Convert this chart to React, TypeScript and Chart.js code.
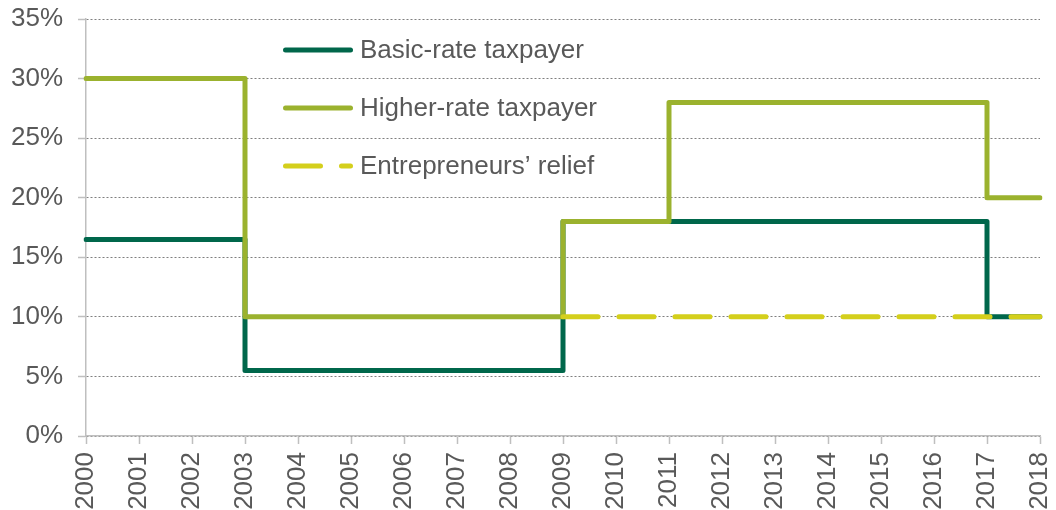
import React, { useEffect, useRef } from 'react';
import { Chart, registerables } from 'chart.js';

Chart.register(...registerables);

const years = ['2000', '2001', '2002', '2003', '2004', '2005', '2006', '2007', '2008', '2009', '2010', '2011', '2012', '2013', '2014', '2015', '2016', '2017', '2018'];
const basicRate = [16.5, 16.5, 16.5, 5.5, 5.5, 5.5, 5.5, 5.5, 5.5, 18, 18, 18, 18, 18, 18, 18, 18, 10, 10];
const higherRate = [30, 30, 30, 10, 10, 10, 10, 10, 10, 18, 18, 28, 28, 28, 28, 28, 28, 20, 20];
const entrepreneursRelief = [null, null, null, null, null, null, null, null, null, 10, 10, 10, 10, 10, 10, 10, 10, 10, 10];
const seriesNames = ['Basic-rate taxpayer', 'Higher-rate taxpayer', 'Entrepreneurs\u2019 relief'];
const seriesColors = ['#00674B', '#9BB22E', '#D4CF1C'];

const FONT = "'Liberation Sans', Arial, sans-serif";
const TEXT = '#595959';
const AXIS = '#BFBFBF';
const ER_DASH = [35, 21];
const LINE_W = 5;

const legendPlugin = {
  id: 'insideLegend',
  afterDraw(chart: any) {
    const ctx = chart.ctx;
    const rows = [50, 108, 166];
    ctx.save();
    seriesNames.forEach((name, i) => {
      const y = rows[i];
      ctx.beginPath();
      ctx.lineWidth = LINE_W;
      ctx.lineCap = 'round';
      ctx.strokeStyle = seriesColors[i];
      ctx.setLineDash(i === 2 ? ER_DASH : []);
      ctx.moveTo(285.5, y);
      ctx.lineTo(350.5, y);
      ctx.stroke();
      ctx.setLineDash([]);
      ctx.fillStyle = TEXT;
      ctx.font = `26px ${FONT}`;
      ctx.textAlign = 'left';
      ctx.textBaseline = 'middle';
      ctx.fillText(name, 360, y + 1);
    });
    ctx.restore();
  },
};

export default function App() {
  const ref = useRef<HTMLCanvasElement>(null);
  useEffect(() => {
    document.body.style.margin = '0';
    const chart = new Chart(ref.current as HTMLCanvasElement, {
      type: 'line',
      data: {
        labels: years,
        datasets: [
          {
            label: seriesNames[0],
            data: basicRate,
            borderColor: seriesColors[0],
            backgroundColor: seriesColors[0],
            borderWidth: LINE_W,
            stepped: true,
            pointRadius: 0,
            borderCapStyle: 'round',
            borderJoinStyle: 'round',
            order: 3,
          },
          {
            label: seriesNames[1],
            data: higherRate,
            borderColor: seriesColors[1],
            backgroundColor: seriesColors[1],
            borderWidth: LINE_W,
            stepped: true,
            pointRadius: 0,
            borderCapStyle: 'round',
            borderJoinStyle: 'round',
            order: 2,
          },
          {
            label: seriesNames[2],
            data: entrepreneursRelief,
            borderColor: seriesColors[2],
            backgroundColor: seriesColors[2],
            borderWidth: LINE_W,
            stepped: true,
            pointRadius: 0,
            borderDash: ER_DASH,
            borderCapStyle: 'round',
            borderJoinStyle: 'round',
            order: 1,
          },
        ],
      },
      options: {
        responsive: false,
        animation: false,
        devicePixelRatio: 1,
        layout: { padding: { left: 0, top: 19, right: 16, bottom: 0 } },
        plugins: {
          legend: { display: false },
          tooltip: { enabled: false },
        },
        scales: {
          x: {
            offset: false,
            grid: {
              display: true,
              drawOnChartArea: false,
              drawTicks: true,
              tickLength: 8,
              tickColor: AXIS,
              tickWidth: 1.5,
            },
            border: { display: true, color: AXIS, width: 1.5 },
            ticks: {
              autoSkip: false,
              minRotation: 90,
              maxRotation: 90,
              padding: 8,
              color: TEXT,
              font: { family: FONT, size: 26 },
            },
            afterFit: (scale: any) => {
              scale.height = 74;
              scale.paddingLeft = 0;
              scale.paddingRight = 0;
            },
          },
          y: {
            min: 0,
            max: 35,
            grid: {
              color: '#7F7F7F',
              lineWidth: 1,
              drawTicks: true,
              tickLength: 8,
              tickColor: AXIS,
              tickWidth: 1.5,
              tickBorderDash: [],
            },
            border: { display: true, color: AXIS, width: 1.5, dash: [2, 2] },
            ticks: {
              stepSize: 5,
              padding: 15,
              color: TEXT,
              font: { family: FONT, size: 26 },
              callback: (v: any) => `${v}%`,
            },
            afterFit: (scale: any) => {
              scale.width = 86;
              scale.paddingTop = 0;
              scale.paddingBottom = 0;
            },
          },
        },
      },
      plugins: [legendPlugin],
    } as any);
    return () => chart.destroy();
  }, []);
  return (
    <div style={{ width: 1056, height: 510 }}>
      <canvas ref={ref} width={1056} height={510} style={{ display: 'block' }} />
    </div>
  );
}
